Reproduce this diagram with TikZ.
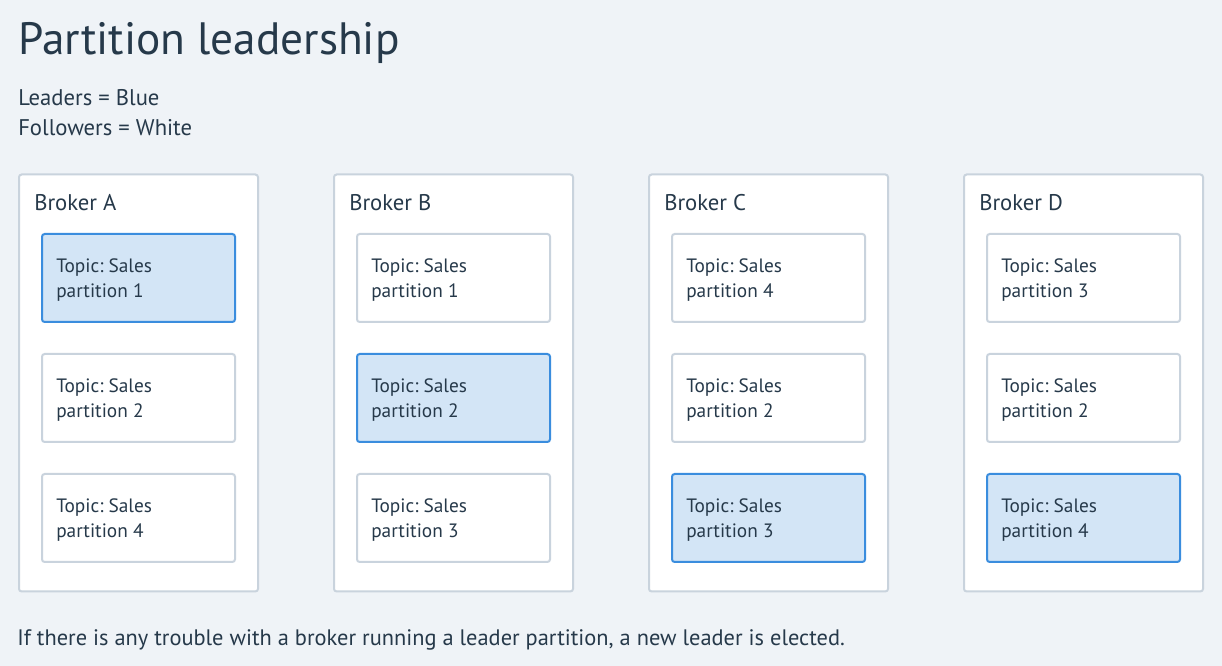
\documentclass[tikz,border=0pt]{standalone}
\usepackage{fontspec}
\setmainfont{PT Sans}
\frenchspacing
\definecolor{bg}{HTML}{EFF3F7}
\definecolor{txt}{HTML}{26394A}
\definecolor{brk}{HTML}{C9D3DD}
\definecolor{leadfill}{HTML}{D3E5F6}
\definecolor{leaddraw}{HTML}{3A8DDE}
\tikzset{
  broker/.style={draw=brk, line width=1.5pt, fill=white, rounded corners=2pt, minimum width=179.25pt, minimum height=312.75pt, anchor=north west, inner sep=0pt},
  part/.style={draw=brk, line width=1.5pt, fill=white, rounded corners=2pt, minimum width=144.75pt, minimum height=66pt, anchor=north west, inner sep=0pt},
  leader/.style={part, draw=leaddraw, fill=leadfill},
  ptext/.style={anchor=base west, inner sep=0pt, font=\fontsize{14.5}{18}\selectfont, text=txt},
  blabel/.style={anchor=base west, inner sep=0pt, font=\fontsize{17}{20}\selectfont, text=txt},
  plain/.style={anchor=base west, inner sep=0pt, text=txt},
}
\newcommand{\ptxt}[2]{%
  \node[ptext] (#1-l1) at ([shift={(15,40)}]#1.north west) {Topic: Sales};
  \node[ptext] (#1-l2) at ([shift={(15,65)}]#1.north west) {partition #2};}
\begin{document}
\begin{tikzpicture}[x=0.75pt,y=-0.75pt]
\fill[bg] (0,0) rectangle (1222,666);
\useasboundingbox (0,0) rectangle (1222,666);
\node[plain, font=\fontsize{34}{40}\selectfont] (title) at (18,55) {Partition leadership};
\node[plain, font=\fontsize{17}{20}\selectfont] (lead) at (18,106) {Leaders = Blue};
\node[plain, font=\fontsize{17}{20}\selectfont] (foll) at (18,136) {Followers = White};
% brokers
\node[broker] (bA) at (18,173.5) {};
\node[broker] (bB) at (333,173.5) {};
\node[broker] (bC) at (648,173.5) {};
\node[broker] (bD) at (963,173.5) {};
\node[blabel] (lA) at (34,211) {Broker A};
\node[blabel] (lB) at (349,211) {Broker B};
\node[blabel] (lC) at (664,211) {Broker C};
\node[blabel] (lD) at (979,211) {Broker D};
% partition boxes
\node[leader] (a1) at (41,233) {};
\node[part]   (a2) at (41,353) {};
\node[part]   (a3) at (41,473) {};
\node[part]   (b1) at (356,233) {};
\node[leader] (b2) at (356,353) {};
\node[part]   (b3) at (356,473) {};
\node[part]   (c1) at (671,233) {};
\node[part]   (c2) at (671,353) {};
\node[leader] (c3) at (671,473) {};
\node[part]   (d1) at (986,233) {};
\node[part]   (d2) at (986,353) {};
\node[leader] (d3) at (986,473) {};
% partition texts
\ptxt{a1}{1}\ptxt{a2}{2}\ptxt{a3}{4}
\ptxt{b1}{1}\ptxt{b2}{2}\ptxt{b3}{3}
\ptxt{c1}{4}\ptxt{c2}{2}\ptxt{c3}{3}
\ptxt{d1}{3}\ptxt{d2}{2}\ptxt{d3}{4}
\node[plain, font=\fontsize{16.8}{20}\selectfont] (foot) at (17,645) {If there is any trouble with a broker running a leader partition, a new leader is elected.};
\end{tikzpicture}
\end{document}
